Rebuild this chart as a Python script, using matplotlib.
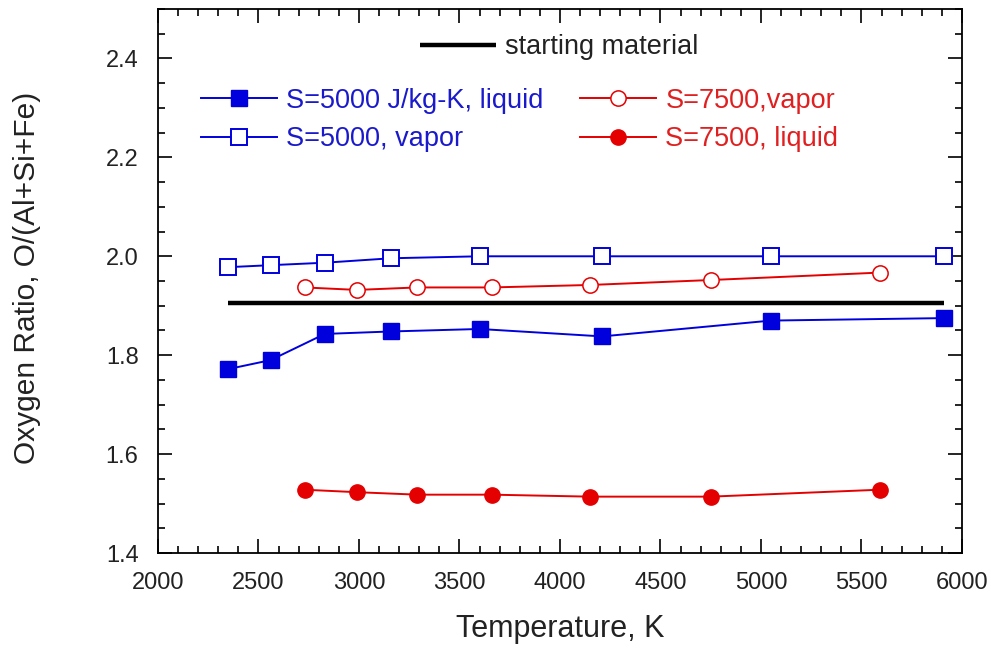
import matplotlib
matplotlib.use("Agg")
import matplotlib.pyplot as plt
from matplotlib.ticker import MultipleLocator, FormatStrFormatter

plt.rcParams['font.family'] = ['Liberation Sans', 'DejaVu Sans']

T_s5000 = [2350, 2560, 2830, 3160, 3600, 4210, 5050, 5910]
liq_s5000 = [1.772, 1.790, 1.843, 1.848, 1.853, 1.838, 1.870, 1.875]
vap_s5000 = [1.978, 1.982, 1.987, 1.996, 2.000, 2.000, 2.000, 2.000]

T_s7500 = [2730, 2990, 3290, 3660, 4150, 4750, 5590]
vap_s7500 = [1.937, 1.932, 1.937, 1.937, 1.942, 1.952, 1.967]
liq_s7500 = [1.528, 1.523, 1.518, 1.518, 1.514, 1.514, 1.528]

start_T = [2350, 5910]
start_val = [1.905, 1.905]

blue = '#0000dd'
red = '#e40000'
blue_txt = '#1a1acc'
red_txt = '#e02020'

fig = plt.figure(figsize=(9.91, 6.52), dpi=100)
ax = fig.add_axes([0.1594, 0.1518, 0.8113, 0.8344])

l0, = ax.plot(start_T, start_val, color='black', lw=3.2, solid_capstyle='butt')
l1, = ax.plot(T_s5000, liq_s5000, color=blue, lw=1.4, marker='s', ms=12, mfc=blue, mec=blue)
l2, = ax.plot(T_s5000, vap_s5000, color=blue, lw=1.4, marker='s', ms=12, mfc='white', mec=blue, mew=1.4)
l3, = ax.plot(T_s7500, vap_s7500, color=red, lw=1.4, marker='o', ms=11, mfc='white', mec=red, mew=1.1)
l4, = ax.plot(T_s7500, liq_s7500, color=red, lw=1.4, marker='o', ms=11, mfc=red, mec=red)

ax.set_xlim(2000, 6000)
ax.set_ylim(1.4, 2.5)
ax.xaxis.set_major_locator(MultipleLocator(500))
ax.xaxis.set_minor_locator(MultipleLocator(100))
ax.yaxis.set_major_locator(MultipleLocator(0.2))
ax.yaxis.set_minor_locator(MultipleLocator(0.05))
ax.yaxis.set_major_formatter(FormatStrFormatter('%.1f'))
ax.tick_params(which='both', direction='in', top=True, right=True, width=1.2)
ax.tick_params(which='major', length=10, labelsize=17, pad=14, labelcolor='#222222')
ax.tick_params(which='minor', length=5)
for s in ax.spines.values():
    s.set_linewidth(1.3)

ax.set_xlabel('Temperature, K', fontsize=22, color='#222222')
ax.xaxis.set_label_coords(0.5, -0.112)
ax.set_ylabel('Oxygen Ratio, O/(Al+Si+Fe)', fontsize=21.5, color='#222222')
ax.yaxis.set_label_coords(-0.146, 0.505)

common = dict(frameon=False, fontsize=19.5, borderpad=0, borderaxespad=0,
              handlelength=2.8, handletextpad=0.35, labelspacing=0.45)

leg0 = ax.legend([l0], ['starting material'], loc='center left',
                 bbox_to_anchor=(0.326, 0.930), **common)
for t in leg0.get_texts():
    t.set_color('#222222')
ax.add_artist(leg0)

leg1 = ax.legend([l1, l2], ['S=5000 J/kg-K, liquid', 'S=5000, vapor'], loc='center left',
                 bbox_to_anchor=(0.0535, 0.796), **common)
for t in leg1.get_texts():
    t.set_color(blue_txt)
ax.add_artist(leg1)

leg2 = ax.legend([l3, l4], ['S=7500,vapor', 'S=7500, liquid'], loc='center left',
                 bbox_to_anchor=(0.525, 0.796), **common)
for t in leg2.get_texts():
    t.set_color(red_txt)

fig.savefig('out.png', dpi=100)
